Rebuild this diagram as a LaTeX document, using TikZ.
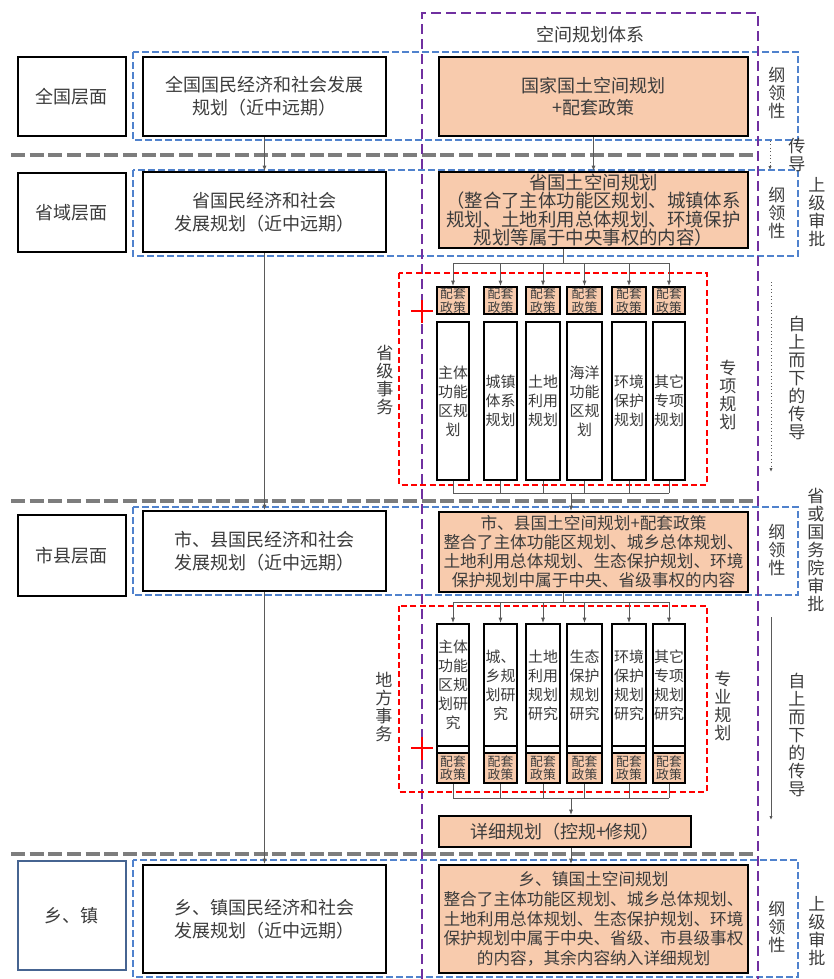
\documentclass[tikz,border=0pt]{standalone}
\usepackage{fontspec}
\setmainfont{Noto Sans CJK SC}
\usetikzlibrary{arrows.meta}
\definecolor{peach}{RGB}{248,203,173}
\definecolor{bluedash}{RGB}{80,130,205}
\definecolor{purp}{RGB}{112,48,160}
\definecolor{sepgray}{RGB}{125,125,125}
\definecolor{txt}{RGB}{60,60,60}
\definecolor{slate}{RGB}{70,100,145}
\definecolor{conncol}{RGB}{90,90,90}
\begin{document}
\begin{tikzpicture}[x=0.75pt,y=-0.75pt,
  every node/.style={text=txt, inner sep=0pt, align=center},
  rect/.style n args={4}{minimum width={(#3-#1)*0.75pt}, minimum height={(#4-#2)*0.75pt}, at={({(#1+#3)/2},{(#2+#4)/2})}},
  f18/.style={font=\fontsize{13.5}{17}\selectfont},
  box/.style={draw=black, line width=1.5pt, fill=white, f18},
  obox/.style={box, fill=peach},
  pol/.style={draw=black, line width=1.5pt, fill=peach, font=\fontsize{9.6}{10}\selectfont},
  tall/.style={draw=black, line width=1.5pt, fill=white, font=\fontsize{11.2}{14.3}\selectfont},
  vlab/.style={font=\fontsize{12.8}{13.4}\selectfont},
  bluebox/.style={draw=bluedash, line width=1.1pt, dash pattern=on 5pt off 2.5pt},
  sep/.style={draw=sepgray, line width=3pt, dash pattern=on 10.5pt off 3.5pt},
  purpline/.style={draw=purp, line width=1.5pt, dash pattern=on 7.5pt off 3.75pt},
  redbox/.style={draw=red, line width=1.2pt, dash pattern=on 4.5pt off 2.5pt},
  conn/.style={draw=conncol, line width=0.6pt},
  arr/.style={conn, -{Latex[length=4pt,width=3pt]}},
  redplus/.style={draw=red, line width=1.5pt},
]
\useasboundingbox (0,0) rectangle (833,979);

% background frames
\draw[bluebox] (133,52) rectangle (798,140);
\draw[bluebox] (133,170) rectangle (798,256);
\draw[bluebox] (133,507) rectangle (798,595);
\draw[bluebox] (133,860) rectangle (798,977);
\draw[sep] (11,155) -- (753,155);
\draw[sep] (11,501) -- (753,501);
\draw[sep] (11,854) -- (753,854);
\draw[purpline] (422,979) -- (422,13) -- (758,13) -- (758,979);
\draw[redbox] (399,273) rectangle (707,485);
\draw[redbox] (399,606) rectangle (707,792);

\node[f18] (title) at (590,35) {空间规划体系};

% level boxes
\node[box, rect={18}{57}{126}{136}] (L1) {全国层面};
\node[box, rect={18}{173}{126}{252}] (L2) {省域层面};
\node[box, rect={18}{515}{126}{596}] (L3) {市县层面};
\node[box, draw=slate, line width=1pt, rect={18}{861}{126}{970}] (L4) {乡、镇};

% economic plans
\node[box, rect={143}{57}{386}{136}] (E1) {全国国民经济和社会发展\\规划（近中远期）};
\node[box, rect={143}{172}{386}{252}] (E2) {省国民经济和社会\\发展规划（近中远期）};
\node[box, rect={143}{511}{386}{591}] (E3) {市、县国民经济和社会\\发展规划（近中远期）};
\node[box, rect={143}{865}{386}{973}] (E4) {乡、镇国民经济和社会\\发展规划（近中远期）};

% spatial plans
\node[obox, rect={439}{57}{748}{136}] (O1) {国家国土空间规划\\+配套政策};
\node[obox, rect={439}{172}{748}{248}, font=\fontsize{13.8}{13.8}\selectfont] (O2) {省国土空间规划\\（整合了主体功能区规划、城镇体系\\规划、土地利用总体规划、环境保护\\规划等属于中央事权的内容）};
\node[obox, rect={439}{512}{748}{592}, font=\fontsize{12.5}{14.3}\selectfont] (O3) {市、县国土空间规划+配套政策\\整合了主体功能区规划、城乡总体规划、\\土地利用总体规划、生态保护规划、环境\\保护规划中属于中央、省级事权的内容};
\node[obox, rect={439}{865}{748}{973}, font=\fontsize{12.5}{14.8}\selectfont] (O4) {乡、镇国土空间规划\\整合了主体功能区规划、城乡总体规划、\\土地利用总体规划、生态保护规划、环境\\保护规划中属于中央、省级、市县级事权\\的内容，其余内容纳入详细规划};
\node[obox, rect={439}{816}{691}{847}] (D) {详细规划（控规+修规）};

% province special plans
\foreach \i/\a/\b/\t in {1/437/469/{主体\\功能\\区规\\划},2/484/517/{城镇\\体系\\规划},3/526/560/{土地\\利用\\规划},4/567/602/{海洋\\功能\\区规\\划},5/612/646/{环境\\保护\\规划},6/653/685/{其它\\专项\\规划}}{
  \node[pol, rect={\a}{287}{\b}{314}] (P\i) {配套\\政策};
  \node[tall, rect={\a}{322}{\b}{480}] (T\i) {\t};
}

% local special plans
\foreach \i/\a/\b/\t in {1/437/469/{主体\\功能\\区规\\划研\\究},2/484/517/{城、\\乡规\\划研\\究},3/526/560/{土地\\利用\\规划\\研究},4/567/602/{生态\\保护\\规划\\研究},5/612/646/{环境\\保护\\规划\\研究},6/653/685/{其它\\专项\\规划\\研究}}{
  \node[tall, rect={\a}{624}{\b}{746}] (U\i) {\t};
  \node[tall, rect={\a}{746}{\b}{783}] (W\i) {};
  \node[pol, rect={\a}{753}{\b}{783}] (Q\i) {配套\\政策};
}

% connectors
\draw[arr] (E1.south) -- (E2.north);
\draw[arr] (E2.south) -- (E3.north);
\draw[arr] (E3.south) -- (E4.north);
\draw[arr] (O1.south) -- (O2.north);

\coordinate (j1) at (563,263);
\draw[conn] (O2.south -| j1) -- (j1);
\draw[conn] (j1 -| P1) -- (j1 -| P6);
\foreach \i in {1,...,6} \draw[arr] (j1 -| P\i) -- (P\i.north);

\coordinate (j2) at (571,493);
\foreach \i in {1,...,6} \draw[conn] (T\i.south) -- (T\i.south |- j2);
\draw[conn] (T1.south |- j2) -- (T6.south |- j2);
\draw[arr] (j2) -- (j2 |- O3.north);

\coordinate (j3) at (563,602);
\draw[conn] (O3.south -| j3) -- (j3);
\draw[conn] (j3 -| U1) -- (j3 -| U6);
\foreach \i in {1,...,6} \draw[arr] (j3 -| U\i) -- (U\i.north);

\coordinate (j4) at (571,798);
\foreach \i in {1,...,6} \draw[conn] (W\i.south) -- (W\i.south |- j4);
\draw[conn] (W1.south |- j4) -- (W6.south |- j4);
\draw[arr] (j4) -- (j4 |- D.north);
\draw[arr] (j4 |- D.south) -- (j4 |- O4.north);

% side arrows
\coordinate (s1a) at (770,141); \coordinate (s1b) at (770,170);
\draw[conn, dotted, -{Latex[length=3pt,width=2.5pt]}] (s1a) -- (s1b);
\coordinate (s2a) at (771,282); \coordinate (s2b) at (771,472);
\draw[conn, dotted, -{Latex[length=3pt,width=2.5pt]}] (s2a) -- (s2b);
\coordinate (s3a) at (771,617); \coordinate (s3b) at (771,820);
\draw[conn, -{Latex[length=3pt,width=2.5pt]}] (s3a) -- (s3b);

% red plus marks
\draw[redplus] (411,311) -- (433,311) (422,300) -- (422,323);
\draw[redplus] (411,748) -- (433,748) (422,737) -- (422,760);

% vertical labels
\node[vlab] (g1) at (777,93) {纲\\领\\性};
\node[vlab] (g2) at (777,213) {纲\\领\\性};
\node[vlab] (g3) at (777,550) {纲\\领\\性};
\node[vlab] (g4) at (777,927) {纲\\领\\性};
\node[vlab] (cd) at (797,155) {传\\导};
\node[vlab] (sp1) at (817,212) {上\\级\\审\\批};
\node[vlab] (sp2) at (817,931) {上\\级\\审\\批};
\node[vlab] (sp3) at (816,550) {省\\或\\国\\务\\院\\审\\批};
\node[vlab] (zs1) at (797,378) {自\\上\\而\\下\\的\\传\\导};
\node[vlab] (zs2) at (797,735) {自\\上\\而\\下\\的\\传\\导};
\node[vlab] (sj) at (385,380) {省\\级\\事\\务};
\node[vlab] (zx) at (728,395) {专\\项\\规\\划};
\node[vlab] (df) at (384,707) {地\\方\\事\\务};
\node[vlab] (zy) at (723,706) {专\\业\\规\\划};
\end{tikzpicture}
\end{document}
